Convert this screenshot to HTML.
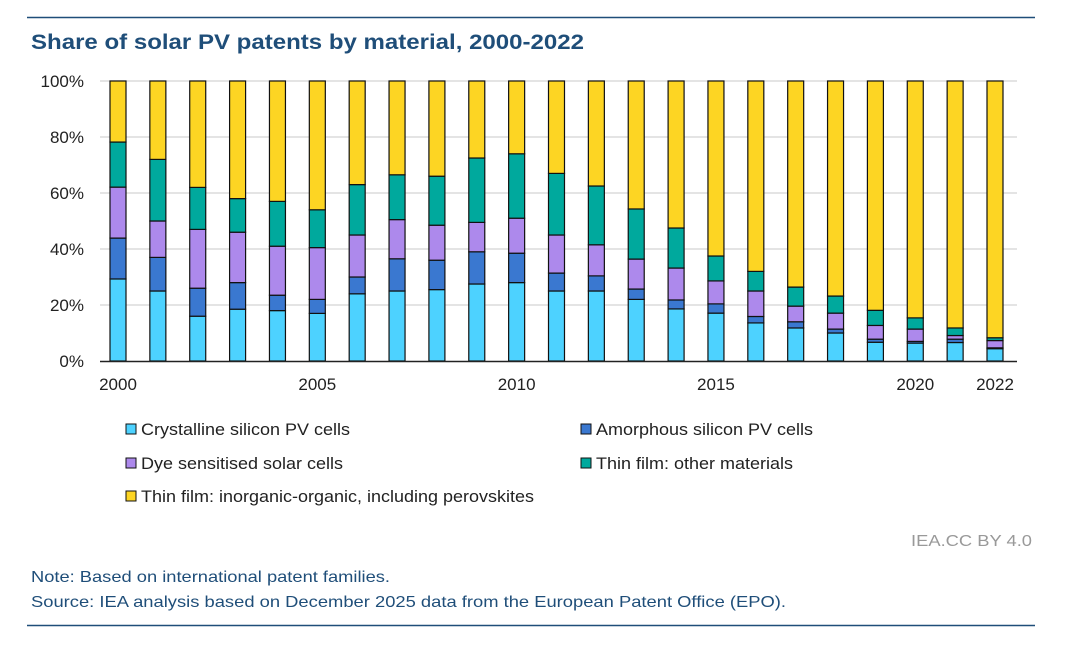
<!DOCTYPE html>
<html><head><meta charset="utf-8"><style>
body{margin:0;background:#fff;font-family:"Liberation Sans",Arial,sans-serif;}
#wrap{position:relative;width:1069px;height:658px;overflow:hidden;}
</style></head><body>
<div id="wrap">
<svg id="svg" width="1069" height="658" xmlns="http://www.w3.org/2000/svg">
<line x1="27" y1="17.5" x2="1035" y2="17.5" stroke="#1f4e79" stroke-width="1.5"/>
<line x1="27" y1="625.5" x2="1035" y2="625.5" stroke="#1f4e79" stroke-width="1.5"/>
<text x="31" y="49" font-size="21" font-weight="bold" fill="#1f4e79" textLength="553" lengthAdjust="spacingAndGlyphs">Share of solar PV patents by material, 2000-2022</text>
<g id="grid"></g><g id="bars"></g><g id="axes"></g><g id="legend"></g>
<text x="1032" y="546" font-size="16" fill="#999" text-anchor="end" textLength="121" lengthAdjust="spacingAndGlyphs">IEA.CC BY 4.0</text>
<text x="31" y="582" font-size="16" fill="#1f4e79" textLength="359" lengthAdjust="spacingAndGlyphs">Note: Based on international patent families.</text>
<text x="31" y="607" font-size="16" fill="#1f4e79" textLength="755" lengthAdjust="spacingAndGlyphs">Source: IEA analysis based on December 2025 data from the European Patent Office (EPO).</text>
</svg>
</div>
<script>
const years=[2000,2001,2002,2003,2004,2005,2006,2007,2008,2009,2010,2011,2012,2013,2014,2015,2016,2017,2018,2019,2020,2021,2022];
const crystalline=[29.3,25,16,18.5,18,17,24,25,25.5,27.5,28,25,25,22,18.6,17.1,13.6,11.8,10,6.7,6.4,6.6,4.4];
const amorphous=[14.6,12,10,9.5,5.5,5,6,11.5,10.5,11.5,10.5,6.4,5.4,3.7,3.2,3.3,2.3,2.2,1.4,1.1,0.6,1.2,0.3];
const dye=[18.2,13,21,18,17.5,18.5,15,14,12.5,10.5,12.5,13.6,11.1,10.7,11.4,8.2,9.1,5.6,5.7,4.9,4.4,1.3,2.6];
const thinOther=[16.1,22,15,12,16,13.5,18,16,17.5,23,23,22,21,17.9,14.3,8.9,7,6.8,6.1,5.4,4,2.7,1];
const thinPerov=years.map((y,i)=>100-crystalline[i]-amorphous[i]-dye[i]-thinOther[i]);
const yTicks=[0,20,40,60,80,100];
const xLabels=[2000,2005,2010,2015,2020,2022];
const series=[
 {name:"Crystalline silicon PV cells",vals:crystalline,color:"#4dd2ff",key:"crystalline",w:209},
 {name:"Amorphous silicon PV cells",vals:amorphous,color:"#3a78d0",key:"amorphous",w:217},
 {name:"Dye sensitised solar cells",vals:dye,color:"#ad89ec",key:"dye",w:202},
 {name:"Thin film: other materials",vals:thinOther,color:"#00a99d",key:"thin-other",w:197},
 {name:"Thin film: inorganic-organic, including perovskites",vals:thinPerov,color:"#fdd523",key:"thin-perovskite",w:393}];
const NS="http://www.w3.org/2000/svg";
const y0=361,yTop=81;
const yS=v=>y0-(y0-yTop)*v/100;
const xS=yr=>118+(yr-2000)*(995-118)/22;
const bw=16;
function mk(tag,attrs,parent){const e=document.createElementNS(NS,tag);for(const k in attrs)e.setAttribute(k,attrs[k]);document.getElementById(parent).appendChild(e);return e;}
yTicks.forEach(t=>{
 if(t>0){const l=mk('line',{x1:100,x2:1017,y1:yS(t),y2:yS(t),stroke:'#dcdcdc','stroke-width':1.5},'grid');
 
 }
 const tx=mk('text',{x:84,y:yS(t)+6,'font-size':17,'text-anchor':'end',fill:'#222'},'axes');tx.textContent=t+'%';
 
 
});
years.forEach((yr,i)=>{
 let cum=0;
 series.forEach(s=>{
  const v=s.vals[i];
  const r=mk('rect',{x:xS(yr)-bw/2,y:yS(cum+v),width:bw,height:Math.max(0,yS(cum)-yS(cum+v)),fill:s.color,stroke:'#111','stroke-width':1.2},'bars');
  
  
  cum+=v;
 });
});
const ax=mk('line',{x1:100,x2:1017,y1:y0+0.5,y2:y0+0.5,stroke:'#222','stroke-width':1.5},'axes');


xLabels.forEach(yr=>{
 const t=mk('text',{x:xS(yr),y:390,'font-size':17,'text-anchor':'middle',fill:'#222'},'axes');t.textContent=yr;
 
 
});
const lpos=[[126,429],[581,429],[126,463],[581,463],[126,496]];
series.forEach((s,i)=>{
 const [lx,ly]=lpos[i];
 const g=mk('g',{},'legend');
 
 
 const r=document.createElementNS(NS,'rect');
 r.setAttribute('x',lx);r.setAttribute('y',ly-5);r.setAttribute('width',10);r.setAttribute('height',10);
 r.setAttribute('fill',s.color);r.setAttribute('stroke','#111');r.setAttribute('stroke-width',1);
 
 
 g.appendChild(r);
 const t=document.createElementNS(NS,'text');
 t.setAttribute('x',lx+15);t.setAttribute('y',ly+6);t.setAttribute('font-size',17);t.setAttribute('fill','#222');
 t.setAttribute('textLength',s.w);t.setAttribute('lengthAdjust','spacingAndGlyphs');
 t.textContent=s.name;
 
 
 g.appendChild(t);
});
</script>
</body></html>
